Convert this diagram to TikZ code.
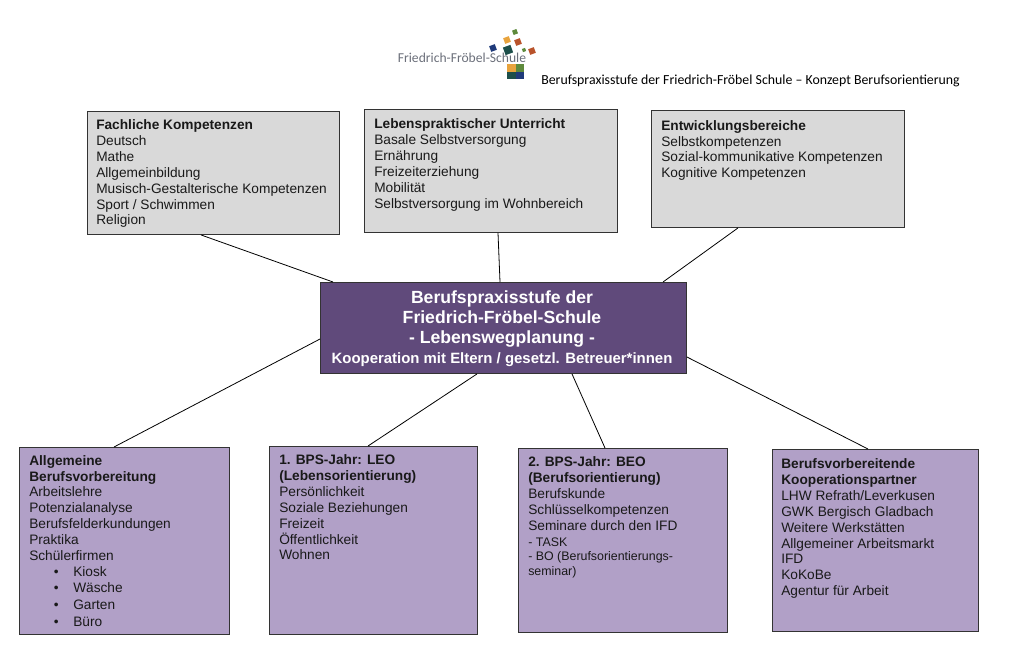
\documentclass[tikz,border=0pt]{standalone}
\usepackage{fontspec}
\setmainfont{Liberation Sans}
\newfontfamily\headfont{Carlito}
\usetikzlibrary{calc}
\definecolor{boxgray}{HTML}{D9D9D9}
\definecolor{boxdark}{HTML}{604A7B}
\definecolor{boxlila}{HTML}{B1A0C7}
\definecolor{logogray}{HTML}{6B6F7A}
\definecolor{logonavy}{HTML}{1F3A7A}
\definecolor{logoteal}{HTML}{1D4F4A}
\definecolor{logogreen}{HTML}{5E8A3C}
\definecolor{logoorange}{HTML}{E8A33D}
\definecolor{logorust}{HTML}{B9532B}
\newcommand{\bpsitem}[1]{\makebox[18.5pt][l]{}\makebox[14.5pt][l]{\textbullet}#1\\[0.55pt]}
\newcommand{\bpssmall}[1]{{\fontsize{9.3}{11}\selectfont #1}}
\tikzset{
	graybox/.style={draw=black!80, fill=boxgray, line width=0.7pt, anchor=north west, inner sep=0},
	lilabox/.style={draw=black!80, fill=boxlila, line width=0.7pt, anchor=north west, inner sep=0},
	boxtext/.style={anchor=north west, inner sep=0, align=left, font=\fontsize{10.27}{11.9}\selectfont, text=black!90},
	logosq/.style={rotate=20, inner sep=0, minimum size=#1},
	link/.style={line width=0.6pt, black}
}
\begin{document}
\begin{tikzpicture}[x=0.75pt, y=-0.75pt]
		\useasboundingbox (0, 0) rectangle (1012, 657);
		%%%%% logo %%%%%
		\node[logosq=3.5pt, fill=logogreen] (sqa) at (515, 32) {};
		\node[logosq=4.5pt, fill=logoorange] (sqb) at (507, 40) {};
		\node[logosq=4.5pt, fill=logorust] (sqc) at (518, 42) {};
		\node[logosq=4.5pt, fill=logonavy] (sqd) at (493, 48) {};
		\node[logosq=6pt, fill=logoteal] (sqe) at (508, 50) {};
		\node[logosq=2.5pt, fill=logogreen] (sqf) at (524, 50) {};
		\node[logosq=4.5pt, fill=logorust] (sqg) at (532, 51) {};
		\node[inner sep=0, font=\fontsize{10.2}{12}\selectfont\headfont, text=logogray] (logotext) at (462, 57.5) {Friedrich-Fröbel-Schule};
		\fill[logoorange] (507, 64) rectangle (515.5, 71.5);
		\fill[logogreen] (515.5, 64) rectangle (524, 71.5);
		\fill[logoteal] (507, 71.5) rectangle (515.5, 79);
		\fill[logonavy] (515.5, 71.5) rectangle (524, 79);
		\node[anchor=west, inner sep=0, font=\fontsize{10.37}{12}\selectfont\headfont] (headline) at (541, 81) {Berufspraxisstufe der Friedrich-Fröbel Schule – Konzept Berufsorientierung};
		
		%%%%% upper boxes %%%%%
		\node[graybox, minimum width=189pt, minimum height=92.25pt] (fach) at (87, 111) {};
		\node[boxtext] (fachtext) at (96, 119.5) {\textbf{Fachliche Kompetenzen}\\Deutsch\\Mathe\\Allgemeinbildung\\Musisch-Gestalterische Kompetenzen\\Sport / Schwimmen\\Religion};
		
		\node[graybox, minimum width=189.75pt, minimum height=92.25pt] (leben) at (364, 109) {};
		\node[boxtext] (lebentext) at (374, 118.5) {\textbf{Lebenspraktischer Unterricht}\\Basale Selbstversorgung\\Ernährung\\Freizeiterziehung\\Mobilität\\Selbstversorgung im Wohnbereich};
		
		\node[graybox, minimum width=189.75pt, minimum height=87.75pt] (entw) at (651, 110) {};
		\node[boxtext] (entwtext) at (661, 120) {\textbf{Entwicklungsbereiche}\\Selbstkompetenzen\\Sozial-kommunikative Kompetenzen\\Kognitive Kompetenzen};
		
		%%%%% center %%%%%
		\node[draw=black!80, fill=boxdark, line width=0.7pt, anchor=north west, inner sep=0, minimum width=274.5pt, minimum height=68.25pt] (mitte) at (320, 282) {};
		\node[inner sep=0, align=center, text=white, font=\fontsize{13.2}{15}\selectfont\bfseries] (mittetext) at (502, 329) {Berufspraxisstufe der\\Friedrich-Fröbel-Schule\\- Lebenswegplanung -\\{\fontsize{11.2}{13}\selectfont Kooperation mit Eltern / gesetzl. Betreuer*innen}};
		
		%%%%% lower boxes %%%%%
		\node[lilabox, minimum width=157.5pt, minimum height=140.25pt] (allg) at (19, 447) {};
		\node[boxtext] (allgtext) at (29, 455) {\textbf{Allgemeine}\\\textbf{Berufsvorbereitung}\\Arbeitslehre\\Potenzialanalyse\\Berufsfelderkundungen\\Praktika\\Schülerfirmen\\\bpsitem{Kiosk}\bpsitem{Wäsche}\bpsitem{Garten}\bpsitem{Büro}};
		
		\node[lilabox, minimum width=156pt, minimum height=141pt] (leo) at (269, 446) {};
		\node[boxtext] (leotext) at (279, 454.5) {\textbf{1. BPS-Jahr: LEO}\\\textbf{(Lebensorientierung)}\\Persönlichkeit\\Soziale Beziehungen\\Freizeit\\Öffentlichkeit\\Wohnen};
		
		\node[lilabox, minimum width=156.75pt, minimum height=138pt] (beo) at (518, 448) {};
		\node[boxtext] (beotext) at (528, 456.5) {\textbf{2. BPS-Jahr: BEO}\\\textbf{(Berufsorientierung)}\\Berufskunde\\Schlüsselkompetenzen\\Seminare durch den IFD\\\bpssmall{- TASK}\\[-1pt]\bpssmall{- BO (Berufsorientierungs-}\\[-1pt]\bpssmall{seminar)}};
		
		\node[lilabox, minimum width=154.5pt, minimum height=136.5pt] (koop) at (772, 449) {};
		\node[boxtext] (kooptext) at (781, 458.5) {\textbf{Berufsvorbereitende}\\\textbf{Kooperationspartner}\\LHW Refrath/Leverkusen\\GWK Bergisch Gladbach\\Weitere Werkstätten\\Allgemeiner Arbeitsmarkt\\IFD\\KoKoBe\\Agentur für Arbeit};
		
		%%%%% links %%%%%
		\draw[link] ($(fach.south west)+(114, 0)$) -- ($(mitte.north west)+(13, 0)$);
		\draw[link] ($(leben.south west)+(134, 0)$) -- ($(mitte.north west)+(180, 0)$);
		\draw[link] ($(entw.south west)+(87, 0)$) -- ($(mitte.north west)+(343, 0)$);
		\draw[link] ($(mitte.north west)+(0, 57)$) -- ($(allg.north west)+(95, 0)$);
		\draw[link] ($(mitte.south west)+(157, 0)$) -- ($(leo.north west)+(99, 0)$);
		\draw[link] ($(mitte.south west)+(252, 0)$) -- ($(beo.north west)+(87, 0)$);
		\draw[link] ($(mitte.north east)+(0, 75)$) -- ($(koop.north west)+(96, 0)$);
	\end{tikzpicture}
\end{document}
